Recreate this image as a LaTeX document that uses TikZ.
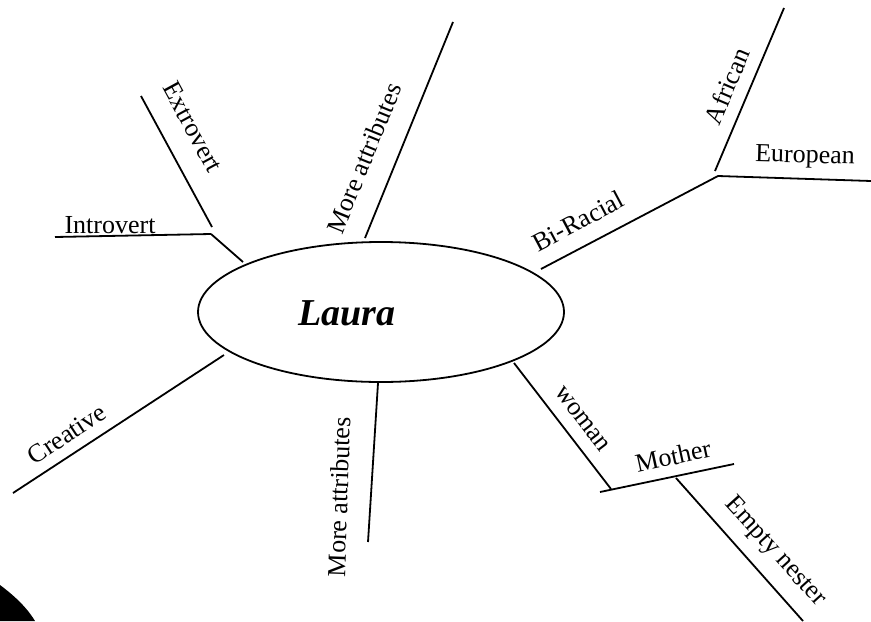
\documentclass[tikz,border=0pt]{standalone}
\usepackage{fontspec}
\setmainfont{Liberation Serif}
\usetikzlibrary{shapes.geometric}
\newcommand{\namefont}{\fontsize{19}{21}\selectfont\bfseries\itshape}
\tikzset{
    branch/.style={line width=0.9pt},
    lbl/.style={font=\fontsize{13}{15}\selectfont,inner sep=0pt},
    bubble/.style={ellipse,draw,line width=0.9pt,minimum width=183pt,minimum height=70pt,inner sep=0pt}
}
\begin{document}
\begin{tikzpicture}[x=0.5pt,y=-0.5pt]
    \useasboundingbox (0,0) rectangle (871,621);
    % centre
    \node[bubble] (laura) at (381,312) {};
    \node[font=\namefont] (lauraname) at (347,313) {Laura};
    % branch end points
    \coordinate (introin) at (243,262);
    \coordinate (introj) at (211,234);
    \coordinate (introl) at (55,237);
    \coordinate (extrot) at (141,96);
    \coordinate (extrob) at (212,227);
    \coordinate (mat) at (453,22);
    \coordinate (mab) at (365,238);
    \coordinate (bra) at (541,269);
    \coordinate (brj) at (718,176);
    \coordinate (afb) at (715,171);
    \coordinate (aft) at (784,8);
    \coordinate (eur) at (871,181);
    \coordinate (cra) at (224,355);
    \coordinate (crb) at (13,493);
    \coordinate (mbt) at (378,383);
    \coordinate (mbb) at (368,542);
    \coordinate (woa) at (514,363);
    \coordinate (wob) at (611,489);
    \coordinate (mol) at (600,492);
    \coordinate (mor) at (734,464);
    \coordinate (ent) at (676,478);
    \coordinate (enb) at (803,621);
    % branches
    \draw[branch] (introin) -- (introj);
    \draw[branch] (introj) -- (introl);
    \draw[branch] (extrot) -- (extrob);
    \draw[branch] (mab) -- (mat);
    \draw[branch] (bra) -- (brj) -- (eur);
    \draw[branch] (afb) -- (aft);
    \draw[branch] (cra) -- (crb);
    \draw[branch] (mbt) -- (mbb);
    \draw[branch] (woa) -- (wob);
    \draw[branch] (mol) -- (mor);
    \draw[branch] (ent) -- (enb);
    % labels
    \node[lbl] (introtxt) at (110,225) {Introvert};
    \node[lbl,rotate=-61.5] (extrotxt) at (193,127) {Extrovert};
    \node[lbl,rotate=67.8] (matxt) at (364,158) {More attributes};
    \node[lbl,rotate=27.9] (brtxt) at (578,221) {Bi-Racial};
    \node[lbl,rotate=67] (aftxt) at (727,86) {African};
    \node[lbl,rotate=-1.5] (eurtxt) at (805,157) {European};
    \node[lbl,rotate=33.4] (crtxt) at (67,434) {Creative};
    \node[lbl,rotate=88] (mbtxt) at (339,497) {More attributes};
    \node[lbl,rotate=-52.6] (wotxt) at (582,419) {woman};
    \node[lbl,rotate=12.3] (motxt) at (673,456) {Mother};
    \node[lbl,rotate=-47.8] (entxt) at (775,552) {Empty nester};
    % corner blot
    \fill (0,585) .. controls (12,594) and (26,606) .. (35,621) -- (0,621) -- cycle;
\end{tikzpicture}
\end{document}
